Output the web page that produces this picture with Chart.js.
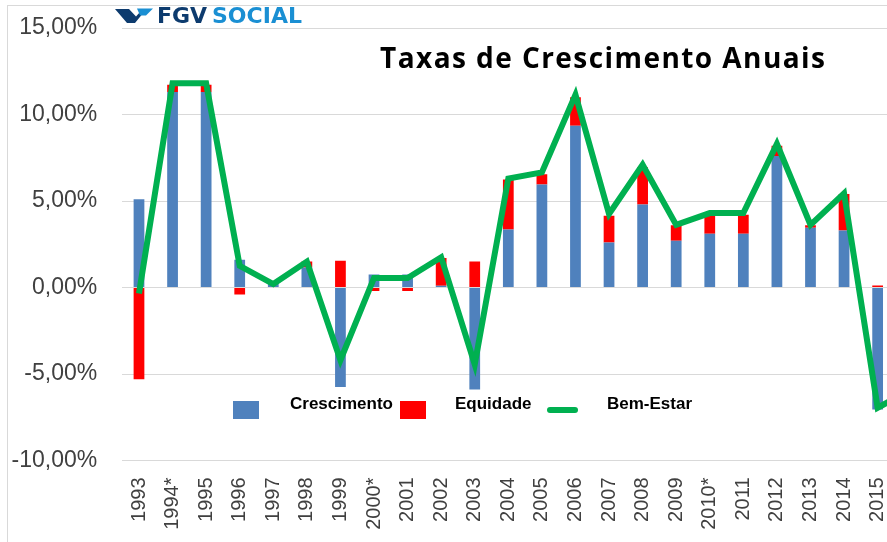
<!DOCTYPE html>
<html>
<head>
<meta charset="utf-8">
<script src="https://cdn.jsdelivr.net/npm/chart.js@4.4.1/dist/chart.umd.min.js"></script>
<style>
html,body{margin:0;padding:0;background:#fff;overflow:hidden;width:887px;height:542px;}
#wrap{position:relative;width:887px;height:542px;overflow:hidden;background:#fff;}
#frame{position:absolute;left:7px;top:5px;width:1000px;height:600px;border:1px solid #D9D9D9;box-sizing:border-box;}
#c{position:absolute;left:0;top:0;}
.txt{position:absolute;white-space:nowrap;font-family:"Liberation Sans",Arial,sans-serif;font-weight:bold;}
#title{left:380px;top:42.5px;font-family:"Open Sans","Liberation Sans",sans-serif;font-size:28px;line-height:28px;color:#000;}
#logo{position:absolute;left:113px;top:6px;width:42px;height:20px;}
#fgv{left:157px;top:4.5px;font-family:"DejaVu Sans",sans-serif;font-size:22px;line-height:22px;color:#0D3B6E;}
#social{left:212px;top:4.5px;font-family:"DejaVu Sans",sans-serif;font-size:22px;line-height:22px;color:#1A8FD3;}
.lg{position:absolute;}
.lgt{font-size:17px;line-height:17px;color:#000;}
</style>
</head>
<body>
<div id="wrap">
  <div id="frame"></div>
  <canvas id="c" width="940" height="542" style="width:940px;height:542px"></canvas>
  <svg id="logo" viewBox="113 6 42 20" width="42" height="20">
    <polygon points="115,9 129,9 136,16.5 140,12 144,12 135,23 127,23" fill="#0D3B6E"/>
    <polygon points="137,8.5 153,8.5 146,15.5 140,15.5" fill="#1A8FD3"/>
  </svg>
  <div class="txt" id="fgv">FGV</div>
  <div class="txt" id="social">SOCIAL</div>
  <div class="txt" id="title">Taxas de Crescimento Anuais</div>
  <div id="legend"></div>
</div>
<script>
// ---- data ----
const categories = ['1993','1994*','1995','1996','1997','1998','1999','2000*','2001','2002','2003','2004','2005','2006','2007','2008','2009','2010*','2011','2012','2013','2014','2015','2016'];
const crescimento = [5.1, 11.3, 11.3, 1.6, 0.25, 1.15, -5.75, 0.75, 0.75, 0.1, -5.9, 3.35, 5.95, 9.35, 2.6, 4.8, 2.7, 3.1, 3.1, 7.6, 3.45, 3.3, -7.05, null];
const equidade = [-5.3, 0.42, 0.42, -0.4, 0, 0.35, 1.55, -0.2, -0.2, 1.6, 1.5, 2.9, 0.6, 1.65, 1.55, 2.15, 0.9, 1.1, 1.1, 0.6, 0.15, 2.1, 0.12, null];
const bemEstar = [-0.35, 11.8, 11.8, 1.25, 0.2, 1.5, -4.2, 0.55, 0.55, 1.75, -4.45, 6.3, 6.65, 11.15, 4.25, 7.1, 3.62, 4.3, 4.3, 8.3, 3.62, 5.45, -6.95, -5.9];
const yTicks = [-10, -5, 0, 5, 10, 15];
const seriesNames = ['Crescimento', 'Equidade', 'Bem-Estar'];
const seriesColors = ['#4F81BD', '#FF0000', '#00B050'];

// title: stretch letter spacing to the reference width
(function(){
  const t = document.getElementById('title');
  const w = t.getBoundingClientRect().width;
  const n = t.textContent.length;
  t.style.letterSpacing = ((445 - w) / (n - 1)) + 'px';
})();

// ---- legend (HTML, built from series names/colours) ----
const legendLayout = [
  {mark:{left:233, top:401, width:26, height:18}, text:290},
  {mark:{left:400, top:401, width:26, height:18}, text:455},
  {mark:{left:547, top:407, width:31, height:6, radius:3}, text:607}
];
const lg = document.getElementById('legend');
seriesNames.forEach((name, i) => {
  const L = legendLayout[i];
  const m = document.createElement('div');
  m.className = 'lg';
  m.style.cssText = `left:${L.mark.left}px;top:${L.mark.top}px;width:${L.mark.width}px;height:${L.mark.height}px;background:${seriesColors[i]};border-radius:${L.mark.radius||0}px;`;
  lg.appendChild(m);
  const t = document.createElement('div');
  t.className = 'txt lgt';
  t.style.left = L.text + 'px';
  t.style.top = '395px';
  t.textContent = name;
  lg.appendChild(t);
});

const fmt = v => v.toFixed(2).replace('.', ',') + '%';

new Chart(document.getElementById('c'), {
  data: {
    labels: categories,
    datasets: [
      {type:'line', label:seriesNames[2], data:bemEstar, borderColor:seriesColors[2], backgroundColor:seriesColors[2],
       borderWidth:6, pointRadius:0, tension:0, stack:'line', order:0, borderJoinStyle:'miter', borderCapStyle:'butt', clip:false},
      {type:'bar', label:seriesNames[0], data:crescimento, backgroundColor:seriesColors[0], stack:'bars', order:1,
       barPercentage:0.32, categoryPercentage:1},
      {type:'bar', label:seriesNames[1], data:equidade, backgroundColor:seriesColors[1], stack:'bars', order:1,
       barPercentage:0.32, categoryPercentage:1}
    ]
  },
  options: {
    responsive:false,
    animation:false,
    devicePixelRatio:1,
    layout:{padding:{top:28, right:12, left:0, bottom:0}},
    plugins:{legend:{display:false}, tooltip:{enabled:false}, title:{display:false}},
    scales:{
      x:{
        stacked:true,
        offset:true,
        grid:{display:false, drawTicks:false},
        border:{display:false},
        ticks:{autoSkip:false, minRotation:90, maxRotation:90, padding:17, color:'#404040',
               font:{family:'"Liberation Sans", Arial, sans-serif', size:20}},
        afterFit:s => { s.height = 81.5; s.paddingLeft = 0; s.paddingRight = 0; }
      },
      y:{
        stacked:true,
        min:-10, max:15,
        afterBuildTicks:s => { s.ticks = yTicks.map(v => ({value:v})); },
        grid:{color:'#D9D9D9', lineWidth:1, drawTicks:false},
        border:{display:false},
        ticks:{padding:25, color:'#404040', callback:v => fmt(v),
               font:{family:'"Liberation Sans", Arial, sans-serif', size:23}},
        afterFit:s => { s.width = 122.2; s.paddingTop = 0; s.paddingBottom = 0; }
      }
    }
  }
});
</script>
</body>
</html>
